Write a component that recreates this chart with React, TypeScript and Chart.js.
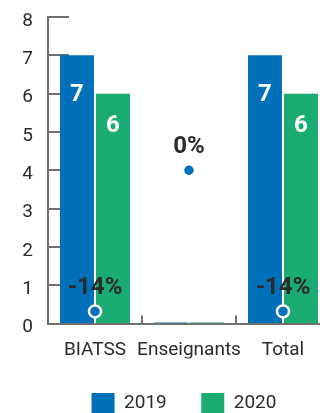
import React, { useEffect, useRef } from "react";
import { Chart, registerables } from "chart.js";

Chart.register(...registerables);

const categories = ["BIATSS", "Enseignants", "Total"];
const seriesNames = ["2019", "2020"];
const values2019 = [7, 0, 7];
const values2020 = [6, 0, 6];
const changePct = [-14, 0, -14];
const changeLabels = ["-14%", "0%", "-14%"];
const yMin = 0;
const yMax = 8;

const BLUE = "#0070ba";
const GREEN = "#1bac74";
const AXIS = "#707070";
const TEXT = "#2b2b2b";
const FONT = "Roboto, 'DejaVu Sans', sans-serif";

const W = 368;
const H = 423;

const decorPlugin = {
  id: "decor",
  beforeDatasetsDraw(chart: any) {
    const { ctx, chartArea, scales } = chart;
    const y = scales.y;
    const x = scales.x;
    ctx.save();
    ctx.strokeStyle = AXIS;
    ctx.lineWidth = 2;
    y.ticks.forEach((t: any, i: number) => {
      if (t.value === 0) return;
      const py = Math.round(y.getPixelForTick(i));
      ctx.beginPath();
      ctx.moveTo(chartArea.left, py);
      ctx.lineTo(chartArea.left + 21, py);
      ctx.stroke();
    });
    for (let i = 1; i < categories.length; i++) {
      const bx = Math.round((x.getPixelForValue(i - 1) + x.getPixelForValue(i)) / 2);
      ctx.beginPath();
      ctx.moveTo(bx, chartArea.bottom);
      ctx.lineTo(bx, chartArea.bottom - 8);
      ctx.stroke();
    }
    ctx.restore();
  },
  afterDatasetsDraw(chart: any) {
    const ctx = chart.ctx;
    ctx.save();
    ctx.font = `bold 24px ${FONT}`;
    ctx.textAlign = "center";
    ctx.textBaseline = "middle";
    ctx.fillStyle = "#ffffff";
    const offsets = [40, 32];
    [0, 1].forEach((di) => {
      const meta = chart.getDatasetMeta(di);
      const ds = chart.data.datasets[di];
      meta.data.forEach((el: any, i: number) => {
        const v = ds.data[i];
        if (!v) return;
        ctx.fillText(String(v), el.x, el.y + offsets[di]);
      });
    });
    const lm = chart.getDatasetMeta(2);
    ctx.fillStyle = TEXT;
    lm.data.forEach((el: any, i: number) => {
      ctx.fillText(changeLabels[i], el.x, el.y - 23);
    });
    ctx.restore();
  },
};

export default function App() {
  const ref = useRef<HTMLCanvasElement | null>(null);

  useEffect(() => {
    if (!ref.current) return;
    const chart = new Chart(ref.current, {
      type: "bar",
      data: {
        labels: categories,
        datasets: [
          {
            type: "bar",
            label: seriesNames[0],
            data: values2019,
            backgroundColor: BLUE,
            borderWidth: 0,
            minBarLength: 1,
            categoryPercentage: 0.766,
            barPercentage: 0.944,
            order: 1,
            yAxisID: "y",
          },
          {
            type: "bar",
            label: seriesNames[1],
            data: values2020,
            backgroundColor: GREEN,
            borderWidth: 0,
            minBarLength: 1,
            categoryPercentage: 0.766,
            barPercentage: 0.944,
            order: 1,
            yAxisID: "y",
          },
          {
            type: "line",
            label: "variation",
            data: changePct,
            showLine: false,
            pointRadius: 6,
            pointBackgroundColor: BLUE,
            pointBorderColor: "#ffffff",
            pointBorderWidth: 2.5,
            order: 0,
            yAxisID: "y2",
          } as any,
        ],
      },
      options: {
        animation: false,
        responsive: false,
        maintainAspectRatio: false,
        layout: { padding: { top: 17, left: 0, right: 0, bottom: 0 } },
        plugins: {
          tooltip: { enabled: false },
          legend: {
            position: "bottom",
            labels: {
              boxWidth: 23,
              boxHeight: 20,
              padding: 34.5,
              color: TEXT,
              font: { family: FONT, size: 19 },
              filter: (item: any) => item.datasetIndex < 2,
            },
          },
        },
        scales: {
          x: {
            grid: { display: false },
            border: { color: AXIS, width: 2 },
            ticks: {
              color: TEXT,
              padding: 7,
              font: { family: FONT, size: 19 },
              maxRotation: 0,
              autoSkip: false,
            },
            afterFit: (s: any) => {
              s.height = 35;
            },
          },
          y: {
            position: "left",
            min: yMin,
            max: yMax,
            grid: {
              display: true,
              drawOnChartArea: false,
              drawTicks: true,
              tickLength: 15,
              tickColor: "rgba(0,0,0,0)",
            },
            border: { color: AXIS, width: 2 },
            ticks: {
              stepSize: 1,
              color: TEXT,
              padding: 0,
              labelOffset: 4,
              font: { family: FONT, size: 19 },
            },
            afterFit: (s: any) => {
              s.width = 48;
            },
          },
          y2: {
            position: "right",
            min: -15.2,
            max: 15.2,
            grid: { display: false },
            border: { display: false },
            ticks: { display: false },
            afterFit: (s: any) => {
              s.width = 38;
            },
          },
        },
      } as any,
      plugins: [decorPlugin],
    });
    return () => chart.destroy();
  }, []);

  return (
    <div
      style={{
        position: "fixed",
        left: 0,
        top: 0,
        width: 320,
        height: 413,
        overflow: "hidden",
        background: "#ffffff",
      }}
    >
      <canvas
        ref={ref}
        width={W}
        height={H}
        style={{ display: "block", width: W, height: H }}
      />
    </div>
  );
}
